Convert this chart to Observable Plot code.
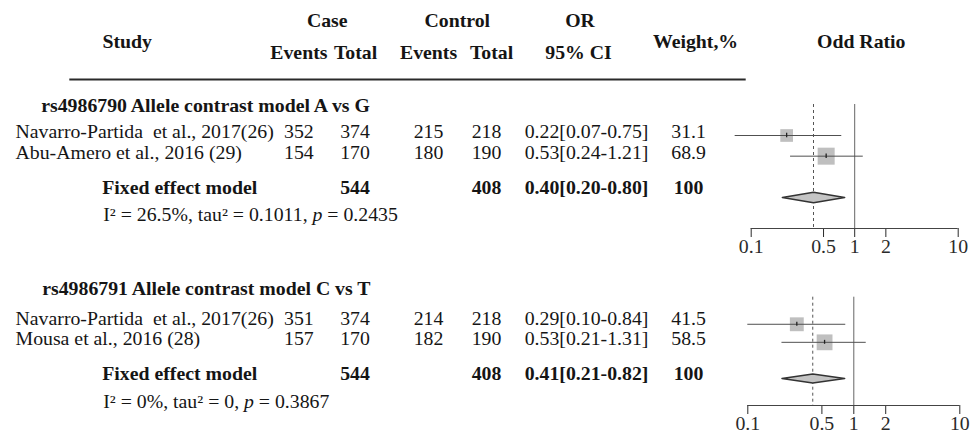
<!DOCTYPE html>
<html><head><meta charset="utf-8">
<script src="https://cdn.jsdelivr.net/npm/d3@7"></script>
<script src="https://cdn.jsdelivr.net/npm/@observablehq/plot@0.6"></script>
<style>
body{margin:0;background:#fff}
#chart{position:relative;width:974px;height:436px;overflow:hidden;background:#fff}
#chart svg{position:absolute}
</style></head><body><div id="chart"></div>
<script>
// ---------------- data ----------------
const panelTitles = ["rs4986790 Allele contrast model A vs G", "rs4986791 Allele contrast model C vs T"];
const studiesA = ["Navarro-Partida  et al., 2017(26)", "Abu-Amero et al., 2016 (29)"];
const caseEventsA = [352, 154];
const caseTotalA = [374, 170];
const ctrlEventsA = [215, 180];
const ctrlTotalA = [218, 190];
const orA = [0.22, 0.53];
const loA = [0.07, 0.24];
const hiA = [0.75, 1.21];
const weightA = [31.1, 68.9];
const fixedA = [0.40, 0.20, 0.80]; // OR, lower, upper
const fixedTotalsA = [544, 408, 100]; // case total, control total, weight
const hetA = "I\u00b2 = 26.5%, tau\u00b2 = 0.1011, p = 0.2435";

const studiesB = ["Navarro-Partida  et al., 2017(26)", "Mousa et al., 2016 (28)"];
const caseEventsB = [351, 157];
const caseTotalB = [374, 170];
const ctrlEventsB = [214, 182];
const ctrlTotalB = [218, 190];
const orB = [0.29, 0.53];
const loB = [0.10, 0.21];
const hiB = [0.84, 1.31];
const weightB = [41.5, 58.5];
const fixedB = [0.41, 0.21, 0.82];
const fixedTotalsB = [544, 408, 100];
const hetB = "I\u00b2 = 0%, tau\u00b2 = 0, p = 0.3867";

const fixedLabel = "Fixed effect model";
const axisTicks = [0.1, 0.5, 1, 2, 10];

const panels = [
  {title: panelTitles[0], studies: studiesA, ce: caseEventsA, ct: caseTotalA, ke: ctrlEventsA, kt: ctrlTotalA, or: orA, lo: loA, hi: hiA, w: weightA, fixed: fixedA, tot: fixedTotalsA, het: hetA},
  {title: panelTitles[1], studies: studiesB, ce: caseEventsB, ct: caseTotalB, ke: ctrlEventsB, kt: ctrlTotalB, or: orB, lo: loB, hi: hiB, w: weightB, fixed: fixedB, tot: fixedTotalsB, het: hetB}
];

// ---------------- layout ----------------
const S = 1.1; // horizontal stretch of the text
const FS = 18;
const FONT = "'Liberation Serif', 'Times New Roman', serif";
const col = {study: 15, ce: 298.3, ct: 354.5, ke: 428, kt: 486, ci: 586, w: 688, fixed: 101.7, het: 102.7};
const rowsY = [
  {titleX: 40.7, title: 106, rows: [131.7, 152.3], fixed: 187.3, het: 215},
  {titleX: 41.7, title: 288.3, rows: [318.3, 338.3], fixed: 374, het: 401.7}
];
const forestBox = [
  {left: 700, top: 90, h: 170, mt: 14, mb: 32, ml: 50.7, mr: 16.3},
  {left: 700, top: 280, h: 156, mt: 16.7, mb: 31, ml: 47.3, mr: 14.7}
];

const fmt2 = v => v.toFixed(2);
const ciText = (o, l, h) => `${fmt2(o)}[${fmt2(l)}-${fmt2(h)}]`;

// table cells
const cells = [
  {x: 126.7, y: 41.7, text: "Study", a: "middle", b: true},
  {x: 326.7, y: 20.7, text: "Case", a: "middle", b: true},
  {x: 456.7, y: 20.7, text: "Control", a: "middle", b: true},
  {x: 579.5, y: 20.7, text: "OR", a: "middle", b: true},
  {x: 298.3, y: 52.3, text: "Events", a: "middle", b: true},
  {x: 355, y: 52.3, text: "Total", a: "middle", b: true},
  {x: 428, y: 52.3, text: "Events", a: "middle", b: true},
  {x: 491, y: 52.3, text: "Total", a: "middle", b: true},
  {x: 578, y: 52.3, text: "95% CI", a: "middle", b: true},
  {x: 695, y: 41.7, text: "Weight,%", a: "middle", b: true},
  {x: 860.7, y: 41.7, text: "Odd Ratio", a: "middle", b: true}
];
panels.forEach((p, k) => {
  const L = rowsY[k];
  cells.push({x: L.titleX, y: L.title, text: p.title, a: "start", b: true});
  p.studies.forEach((s, i) => {
    const y = L.rows[i];
    cells.push({x: col.study, y, text: s, a: "start", b: false});
    cells.push({x: col.ce, y, text: String(p.ce[i]), a: "middle", b: false});
    cells.push({x: col.ct, y, text: String(p.ct[i]), a: "middle", b: false});
    cells.push({x: col.ke, y, text: String(p.ke[i]), a: "middle", b: false});
    cells.push({x: col.kt, y, text: String(p.kt[i]), a: "middle", b: false});
    cells.push({x: col.ci, y, text: ciText(p.or[i], p.lo[i], p.hi[i]), a: "middle", b: false});
    cells.push({x: col.w, y, text: String(p.w[i]), a: "middle", b: false});
  });
  cells.push({x: col.fixed, y: L.fixed, text: fixedLabel, a: "start", b: true});
  cells.push({x: col.ct, y: L.fixed, text: String(p.tot[0]), a: "middle", b: true});
  cells.push({x: col.kt, y: L.fixed, text: String(p.tot[1]), a: "middle", b: true});
  cells.push({x: col.ci, y: L.fixed, text: ciText(p.fixed[0], p.fixed[1], p.fixed[2]), a: "middle", b: true});
  cells.push({x: col.w, y: L.fixed, text: String(p.tot[2]), a: "middle", b: true});
  cells.push({x: col.het, y: L.het, text: p.het, a: "start", b: false});
});

const textMarks = [];
for (const a of ["start", "middle"]) for (const b of [true, false]) {
  textMarks.push(Plot.text(cells.filter(d => d.a === a && d.b === b), {
    x: "x", y: "y", text: "text", textAnchor: a, fontWeight: b ? "bold" : "normal",
    fontSize: FS, fill: "#151515"
  }));
}

const W0 = 974 / S;
const table = Plot.plot({
  width: W0, height: 436, margin: 0,
  x: {domain: [0, 974], range: [0, W0], axis: null},
  y: {domain: [0, 436], range: [0, 436], axis: null},
  style: {fontFamily: FONT, background: "transparent", overflow: "visible"},
  marks: [
    Plot.ruleY([79], {x1: 69.3, x2: 745.7, stroke: "#2a2a2a", strokeWidth: 2}),
    ...textMarks
  ]
});
table.setAttribute("width", 974);
table.setAttribute("preserveAspectRatio", "none");
Object.assign(table.style, {width: "974px", height: "436px", maxWidth: "none", left: "0px", top: "0px"});
// italic p in heterogeneity lines
table.querySelectorAll("text").forEach(t => {
  const s = t.textContent;
  const idx = s.lastIndexOf("p = ");
  if (s.startsWith("I\u00b2") && idx > 0) {
    t.textContent = "";
    const NS = "http://www.w3.org/2000/svg";
    const a = document.createElementNS(NS, "tspan"); a.textContent = s.slice(0, idx);
    const b = document.createElementNS(NS, "tspan"); b.textContent = "p"; b.setAttribute("font-style", "italic");
    const c = document.createElementNS(NS, "tspan"); c.textContent = s.slice(idx + 1);
    t.append(a, b, c);
  }
});
const chart = document.getElementById("chart");
chart.appendChild(table);

function stretch(el, s) {
  const t = el.getAttribute("transform") || "";
  const xa = el.getAttribute("x");
  if (xa != null && isFinite(+xa)) el.setAttribute("x", +xa / s);
  el.setAttribute("transform", `${t} scale(${s},1)`);
}

panels.forEach((p, k) => {
  const B = forestBox[k];
  const rows = p.or.map((o, i) => ({y: [1.5, 2.5][i], or: o, lo: p.lo[i], hi: p.hi[i], w: p.w[i]}));
  const [fo, fl, fh] = p.fixed;
  const dh = 0.25;
  const diamond = [{x: fl, y: 4.5}, {x: fo, y: 4.5 - dh}, {x: fh, y: 4.5}, {x: fo, y: 4.5 + dh}];
  const svg = Plot.plot({
    width: 274, height: B.h,
    marginTop: B.mt, marginBottom: B.mb, marginLeft: B.ml, marginRight: B.mr,
    x: {type: "log", domain: [0.1, 10], ticks: axisTicks, tickFormat: d => String(d), tickSize: 9, tickPadding: 3, label: null},
    y: {domain: [0, 6], reverse: true, axis: null},
    r: {type: "linear", domain: [0, 100], range: [5.15, 11.6]},
    style: {fontFamily: FONT, fontSize: FS + "px", color: "#2a2a2a", background: "transparent", overflow: "visible"},
    marks: [
      Plot.ruleY([6], {x1: 0.1, x2: 10, stroke: "#444"}),
      Plot.ruleX([1], {y1: 0, y2: 6, stroke: "#666"}),
      Plot.ruleX([fo], {y1: 0, y2: 6, stroke: "#555", strokeDasharray: "3,3"}),
      Plot.dot(rows, {x: "or", y: "y", r: "w", symbol: "square", fill: "#bfbfbf"}),
      Plot.ruleY(rows, {y: "y", x1: "lo", x2: "hi", stroke: "#505050"}),
      Plot.ruleX(rows, {x: "or", y1: d => d.y - 0.11, y2: d => d.y + 0.11, stroke: "#222", strokeWidth: 1.3}),
      Plot.line(diamond, {x: "x", y: "y", curve: "linear-closed", fill: "#c4c4c4", stroke: "#333"})
    ]
  });
  Object.assign(svg.style, {left: B.left + "px", top: B.top + "px"});
  svg.querySelectorAll("text").forEach(t => stretch(t, S));
  chart.appendChild(svg);
});
</script></body></html>
